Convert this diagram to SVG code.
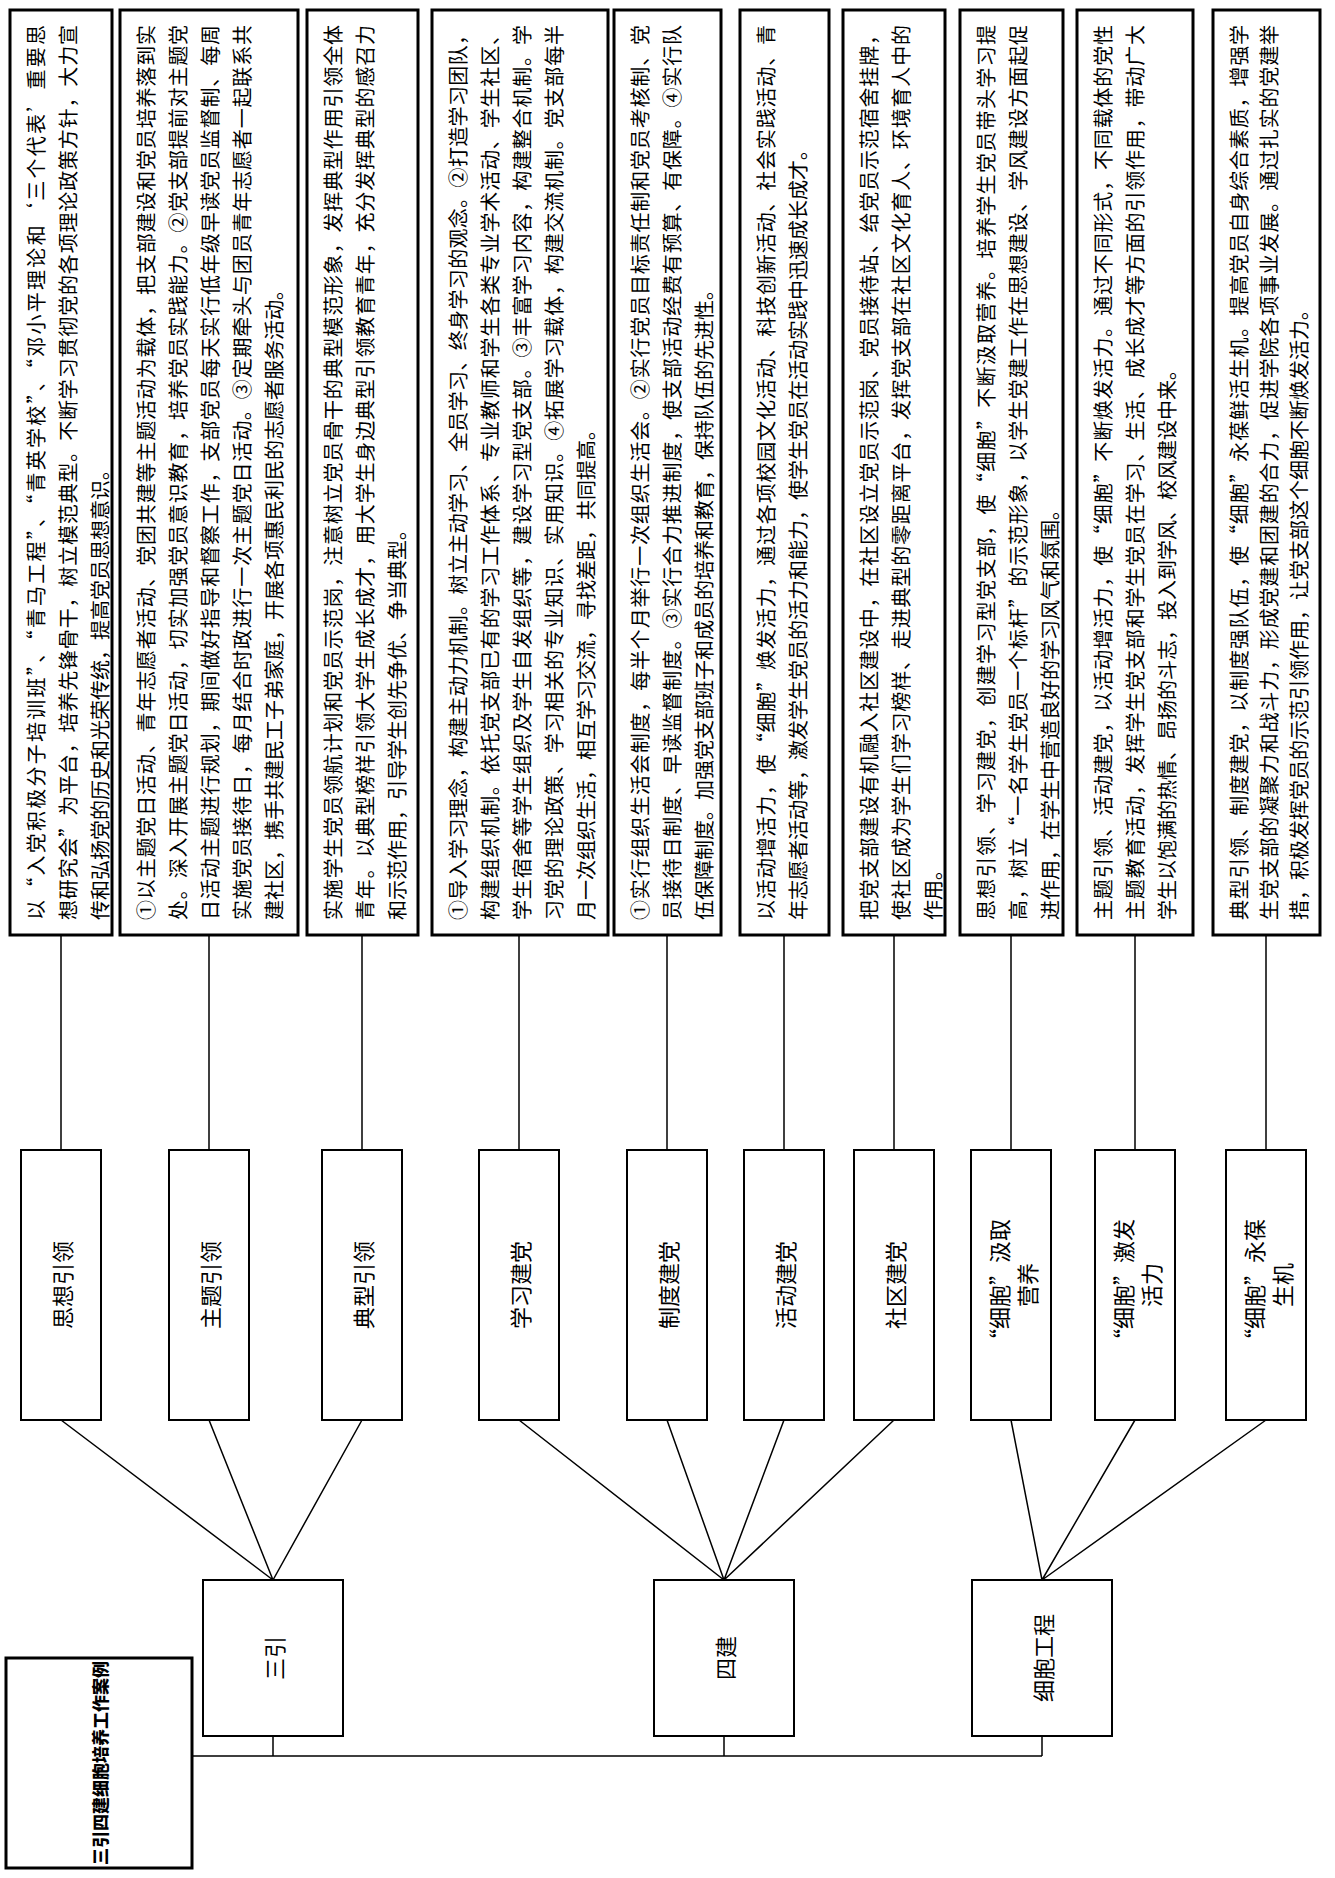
<svg xmlns="http://www.w3.org/2000/svg" width="1335" height="1878" viewBox="0 0 1335 1878">
<style>
.box{fill:#fff;stroke:#000;stroke-width:3}
.node{fill:#fff;stroke:#000;stroke-width:2}
.t{font-family:'Noto Sans CJK SC',sans-serif;font-size:20px;fill:#000;dominant-baseline:central}
.lbl{font-family:'Noto Sans CJK SC',sans-serif;font-size:22px;fill:#000;text-anchor:middle;dominant-baseline:central}
.ttl{font-family:'Noto Sans CJK SC',sans-serif;font-size:17px;font-weight:900;fill:#000;text-anchor:middle;dominant-baseline:central}
.con{stroke:#000;stroke-width:1.5;fill:none}
</style>
<rect width="1335" height="1878" fill="#fff"/>
<g id="connectors">
<path class="con" d="M61 935V1150M209 935V1150M362 935V1150M519 935V1150M667 935V1150M784 935V1150M894 935V1150M1011 935V1150M1135 935V1150M1266 935V1150"/>
<path class="con" d="M61 1420L273 1580M209 1420L273 1580M362 1420L273 1580M519 1420L724 1580M667 1420L724 1580M784 1420L724 1580M894 1420L724 1580M1011 1420L1042 1580M1135 1420L1042 1580M1266 1420L1042 1580"/>
<path class="con" d="M273 1736V1756M724 1736V1756M1042 1736V1756M192 1756H1042"/>
</g>
<g id="text1"><rect class="box" x="10" y="10" width="102" height="925"/>
<text class="t" transform="translate(35,920) rotate(-90)" textLength="895" lengthAdjust="spacing">以“入党积极分子培训班”、“青马工程”、“青英学校”、“邓小平理论和‘三个代表’重要思</text>
<text class="t" transform="translate(67,920) rotate(-90)" textLength="895" lengthAdjust="spacing">想研究会”为平台，培养先锋骨干，树立模范典型。不断学习贯彻党的各项理论政策方针，大力宣</text>
<text class="t" transform="translate(99,920) rotate(-90)">传和弘扬党的历史和光荣传统，提高党员思想意识。</text>
</g>
<g id="text2"><rect class="box" x="120" y="10" width="178" height="925"/>
<text class="t" transform="translate(145,920) rotate(-90)" textLength="895" lengthAdjust="spacing">①以主题党日活动、青年志愿者活动、党团共建等主题活动为载体，把支部建设和党员培养落到实</text>
<text class="t" transform="translate(177,920) rotate(-90)" textLength="895" lengthAdjust="spacing">处。深入开展主题党日活动，切实加强党员意识教育，培养党员实践能力。②党支部提前对主题党</text>
<text class="t" transform="translate(209,920) rotate(-90)" textLength="895" lengthAdjust="spacing">日活动主题进行规划，期间做好指导和督察工作，支部党员每天实行低年级早读党员监督制、每周</text>
<text class="t" transform="translate(241,920) rotate(-90)" textLength="895" lengthAdjust="spacing">实施党员接待日，每月结合时政进行一次主题党日活动。③定期牵头与团员青年志愿者一起联系共</text>
<text class="t" transform="translate(273,920) rotate(-90)">建社区，携手共建民工子弟家庭，开展各项惠民利民的志愿者服务活动。</text>
</g>
<g id="text3"><rect class="box" x="307" y="10" width="111" height="925"/>
<text class="t" transform="translate(332,920) rotate(-90)" textLength="895" lengthAdjust="spacing">实施学生党员领航计划和党员示范岗，注意树立党员骨干的典型模范形象，发挥典型作用引领全体</text>
<text class="t" transform="translate(364,920) rotate(-90)" textLength="895" lengthAdjust="spacing">青年。以典型榜样引领大学生成长成才，用大学生身边典型引领教育青年，充分发挥典型的感召力</text>
<text class="t" transform="translate(396,920) rotate(-90)">和示范作用，引导学生创先争优、争当典型。</text>
</g>
<g id="text4"><rect class="box" x="432" y="10" width="176" height="925"/>
<text class="t" transform="translate(457,920) rotate(-90)" textLength="895" lengthAdjust="spacing">①导入学习理念，构建主动力机制。树立主动学习、全员学习、终身学习的观念。②打造学习团队，</text>
<text class="t" transform="translate(489,920) rotate(-90)" textLength="895" lengthAdjust="spacing">构建组织机制。依托党支部已有的学习工作体系、专业教师和学生各类专业学术活动、学生社区、</text>
<text class="t" transform="translate(521,920) rotate(-90)" textLength="895" lengthAdjust="spacing">学生宿舍等学生组织及学生自发组织等，建设学习型党支部。③丰富学习内容，构建整合机制。学</text>
<text class="t" transform="translate(553,920) rotate(-90)" textLength="895" lengthAdjust="spacing">习党的理论政策、学习相关的专业知识、实用知识。④拓展学习载体，构建交流机制。党支部每半</text>
<text class="t" transform="translate(585,920) rotate(-90)">月一次组织生活，相互学习交流，寻找差距，共同提高。</text>
</g>
<g id="text5"><rect class="box" x="614" y="10" width="107" height="925"/>
<text class="t" transform="translate(639,920) rotate(-90)" textLength="895" lengthAdjust="spacing">①实行组织生活会制度，每半个月举行一次组织生活会。②实行党员目标责任制和党员考核制、党</text>
<text class="t" transform="translate(671,920) rotate(-90)" textLength="895" lengthAdjust="spacing">员接待日制度、早读监督制度。③实行合力推进制度，使支部活动经费有预算、有保障。④实行队</text>
<text class="t" transform="translate(703,920) rotate(-90)">伍保障制度。加强党支部班子和成员的培养和教育，保持队伍的先进性。</text>
</g>
<g id="text6"><rect class="box" x="740" y="10" width="89" height="925"/>
<text class="t" transform="translate(765,920) rotate(-90)" textLength="895" lengthAdjust="spacing">以活动增活力，使“细胞”焕发活力，通过各项校园文化活动、科技创新活动、社会实践活动、青</text>
<text class="t" transform="translate(797,920) rotate(-90)">年志愿者活动等，激发学生党员的活力和能力，使学生党员在活动实践中迅速成长成才。</text>
</g>
<g id="text7"><rect class="box" x="843" y="10" width="102" height="925"/>
<text class="t" transform="translate(868,920) rotate(-90)" textLength="895" lengthAdjust="spacing">把党支部建设有机融入社区建设中，在社区设立党员示范岗、党员接待站、给党员示范宿舍挂牌，</text>
<text class="t" transform="translate(900,920) rotate(-90)" textLength="895" lengthAdjust="spacing">使社区成为学生们学习榜样、走进典型的零距离平台，发挥党支部在社区文化育人、环境育人中的</text>
<text class="t" transform="translate(932,920) rotate(-90)">作用。</text>
</g>
<g id="text8"><rect class="box" x="960" y="10" width="103" height="925"/>
<text class="t" transform="translate(985,920) rotate(-90)" textLength="895" lengthAdjust="spacing">思想引领、学习建党，创建学习型党支部，使“细胞”不断汲取营养。培养学生党员带头学习提</text>
<text class="t" transform="translate(1017,920) rotate(-90)" textLength="895" lengthAdjust="spacing">高，树立“一名学生党员一个标杆”的示范形象，以学生党建工作在思想建设、学风建设方面起促</text>
<text class="t" transform="translate(1049,920) rotate(-90)">进作用，在学生中营造良好的学习风气和氛围。</text>
</g>
<g id="text9"><rect class="box" x="1077" y="10" width="116" height="925"/>
<text class="t" transform="translate(1102,920) rotate(-90)" textLength="895" lengthAdjust="spacing">主题引领、活动建党，以活动增活力，使“细胞”不断焕发活力。通过不同形式，不同载体的党性</text>
<text class="t" transform="translate(1134,920) rotate(-90)" textLength="895" lengthAdjust="spacing">主题教育活动，发挥学生党支部和学生党员在学习、生活、成长成才等方面的引领作用，带动广大</text>
<text class="t" transform="translate(1166,920) rotate(-90)">学生以饱满的热情、昂扬的斗志，投入到学风、校风建设中来。</text>
</g>
<g id="text10"><rect class="box" x="1213" y="10" width="107" height="925"/>
<text class="t" transform="translate(1238,920) rotate(-90)" textLength="895" lengthAdjust="spacing">典型引领、制度建党，以制度强队伍，使“细胞”永葆鲜活生机。提高党员自身综合素质，增强学</text>
<text class="t" transform="translate(1268,920) rotate(-90)" textLength="895" lengthAdjust="spacing">生党支部的凝聚力和战斗力，形成党建和团建的合力，促进学院各项事业发展。通过扎实的党建举</text>
<text class="t" transform="translate(1298,920) rotate(-90)">措，积极发挥党员的示范引领作用，让党支部这个细胞不断焕发活力。</text>
</g>
<g id="n1"><rect class="node" x="21" y="1150" width="80" height="270"/><text class="lbl" transform="translate(61,1285) rotate(-90)">思想引领</text></g>
<g id="n2"><rect class="node" x="169" y="1150" width="80" height="270"/><text class="lbl" transform="translate(209,1285) rotate(-90)">主题引领</text></g>
<g id="n3"><rect class="node" x="322" y="1150" width="80" height="270"/><text class="lbl" transform="translate(362,1285) rotate(-90)">典型引领</text></g>
<g id="n4"><rect class="node" x="479" y="1150" width="80" height="270"/><text class="lbl" transform="translate(519,1285) rotate(-90)">学习建党</text></g>
<g id="n5"><rect class="node" x="627" y="1150" width="80" height="270"/><text class="lbl" transform="translate(667,1285) rotate(-90)">制度建党</text></g>
<g id="n6"><rect class="node" x="744" y="1150" width="80" height="270"/><text class="lbl" transform="translate(784,1285) rotate(-90)">活动建党</text></g>
<g id="n7"><rect class="node" x="854" y="1150" width="80" height="270"/><text class="lbl" transform="translate(894,1285) rotate(-90)">社区建党</text></g>
<g id="n8"><rect class="node" x="971" y="1150" width="80" height="270"/><text class="lbl" transform="translate(998,1285) rotate(-90)">“细胞”汲取</text><text class="lbl" transform="translate(1026,1285) rotate(-90)">营养</text></g>
<g id="n9"><rect class="node" x="1095" y="1150" width="80" height="270"/><text class="lbl" transform="translate(1122,1285) rotate(-90)">“细胞”激发</text><text class="lbl" transform="translate(1150,1285) rotate(-90)">活力</text></g>
<g id="n10"><rect class="node" x="1226" y="1150" width="80" height="270"/><text class="lbl" transform="translate(1253,1285) rotate(-90)">“细胞”永葆</text><text class="lbl" transform="translate(1281,1285) rotate(-90)">生机</text></g>
<g id="l1"><rect class="node" x="203" y="1580" width="140" height="156"/><text class="lbl" transform="translate(273,1658) rotate(-90)">三引</text></g>
<g id="l2"><rect class="node" x="654" y="1580" width="140" height="156"/><text class="lbl" transform="translate(724,1658) rotate(-90)">四建</text></g>
<g id="l3"><rect class="node" x="972" y="1580" width="140" height="156"/><text class="lbl" transform="translate(1042,1658) rotate(-90)">细胞工程</text></g>
<g id="root"><rect class="box" x="6" y="1658" width="186" height="210"/><text class="ttl" transform="translate(99,1763) rotate(-90)">三引四建细胞培养工作案例</text></g>
</svg>
